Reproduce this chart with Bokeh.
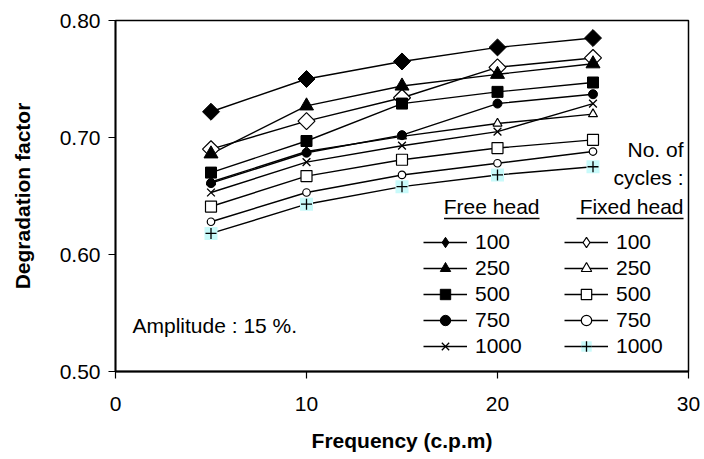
import math
from bokeh.plotting import figure
from bokeh.models import (Range1d, FixedTicker, NumeralTickFormatter, Label,
                          Legend, LegendItem)
from bokeh.embed import file_html
from bokeh.resources import INLINE

# ---- data ----
freq = [5, 10, 15, 20, 25]
cycles = ["100", "250", "500", "750", "1000"]

free_100 = [0.722, 0.750, 0.765, 0.777, 0.785]
free_250 = [0.686, 0.727, 0.744, 0.754, 0.763]
free_500 = [0.670, 0.697, 0.729, 0.739, 0.747]
free_750 = [0.661, 0.687, 0.702, 0.729, 0.737]
free_1000 = [0.653, 0.679, 0.693, 0.705, 0.729]

fixed_100 = [0.690, 0.714, 0.734, 0.760, 0.768]
fixed_250 = [0.662, 0.688, 0.701, 0.712, 0.720]
fixed_500 = [0.641, 0.667, 0.681, 0.691, 0.698]
fixed_750 = [0.628, 0.653, 0.668, 0.678, 0.688]
fixed_1000 = [0.618, 0.643, 0.658, 0.668, 0.675]

x_ticks = [0, 10, 20, 30]
y_ticks = [0.5, 0.6, 0.7, 0.8]

FONT = "Liberation Sans"

p = figure(width=704, height=459, output_backend="svg", toolbar_location=None,
           x_range=Range1d(0, 30), y_range=Range1d(0.5, 0.8),
           min_border_left=115, min_border_right=16, min_border_top=20,
           min_border_bottom=88)
p.xgrid.visible = False
p.ygrid.visible = False
p.outline_line_color = "black"
p.outline_line_width = 1.5
p.background_fill_color = "white"
p.border_fill_color = "white"

for ax in (p.xaxis[0], p.yaxis[0]):
    ax.axis_line_color = "black"
    ax.axis_line_width = 1.8
    ax.major_tick_line_color = "black"
    ax.major_tick_line_width = 1.2
    ax.major_tick_in = 0
    ax.major_tick_out = 7
    ax.minor_tick_line_color = None
    ax.major_label_text_font = FONT
    ax.major_label_text_font_size = "21px"
    ax.major_label_text_color = "black"
    ax.axis_label_text_font = FONT
    ax.axis_label_text_font_size = "21px"
    ax.axis_label_text_font_style = "bold"
    ax.axis_label_text_color = "black"

p.xaxis.ticker = FixedTicker(ticks=x_ticks)
p.yaxis.ticker = FixedTicker(ticks=y_ticks)
p.yaxis.formatter = NumeralTickFormatter(format="0.00")
p.xaxis.major_label_standoff = 18
p.yaxis.major_label_standoff = 8
p.xaxis.axis_label = "Frequency (c.p.m)"
p.yaxis.axis_label = "Degradation factor"
p.xaxis.axis_label_standoff = 15
p.yaxis.axis_label_standoff = 23

# ---- series ----
LW = 1.4
lines = {}
all_series = [("fixed", cycles[i], s) for i, s in enumerate(
    [fixed_100, fixed_250, fixed_500, fixed_750, fixed_1000])] + \
    [("free", cycles[i], s) for i, s in enumerate(
        [free_100, free_250, free_500, free_750, free_1000])]
for kind, c, s in all_series:
    lines[(kind, c)] = p.line(freq, s, line_color="black", line_width=LW)

marks = {}
# fixed head (open) markers
marks[("fixed", "100")] = [p.scatter(freq, fixed_100, marker="square", angle=math.pi / 4,
                                     size=12, fill_color="white", line_color="black", line_width=1.2)]
marks[("fixed", "250")] = [p.scatter(freq, fixed_250, marker="triangle", size=9,
                                     fill_color="white", line_color="black", line_width=1.2)]
marks[("fixed", "500")] = [p.scatter(freq, fixed_500, marker="square", size=11,
                                     fill_color="white", line_color="black", line_width=1.2)]
marks[("fixed", "750")] = [p.scatter(freq, fixed_750, marker="circle", size=7.5,
                                     fill_color="white", line_color="black", line_width=1.2)]
marks[("fixed", "1000")] = [
    p.scatter(freq, fixed_1000, marker="square", size=13, fill_color="#c8fafa", line_color=None),
    p.scatter(freq, fixed_1000, marker="cross", size=11, line_color="black", line_width=1.3)]
# free head (filled) markers
marks[("free", "100")] = [p.scatter(freq, free_100, marker="square", angle=math.pi / 4,
                                    size=12, fill_color="black", line_color="black")]
marks[("free", "250")] = [p.scatter(freq, free_250, marker="triangle", size=14,
                                    fill_color="black", line_color="black")]
marks[("free", "500")] = [p.scatter(freq, free_500, marker="square", size=11,
                                    fill_color="black", line_color="black")]
marks[("free", "750")] = [p.scatter(freq, free_750, marker="circle", size=9,
                                    fill_color="black", line_color="black")]
marks[("free", "1000")] = [p.scatter(freq, free_1000, marker="x", size=11,
                                     line_color="black", line_width=1.3)]

# the legend cannot rotate markers, so the 100-cycle entries use hidden diamond renderers
leg_marks = dict(marks)
leg_marks[("free", "100")] = [p.scatter(freq, free_100, marker="diamond", size=12,
                                        fill_color="black", line_color="black", visible=False)]
leg_marks[("fixed", "100")] = [p.scatter(freq, fixed_100, marker="diamond", size=12,
                                         fill_color="white", line_color="black",
                                         line_width=1.2, visible=False)]

items = []
for kind in ("free", "fixed"):
    for c in cycles:
        items.append(LegendItem(label=c, renderers=[lines[(kind, c)]] + leg_marks[(kind, c)]))

legend = Legend(items=items, orientation="vertical", nrows=5,
                location=(308, 12), glyph_width=44, glyph_height=26,
                label_height=26, label_width=89, spacing=0, padding=0, margin=0,
                label_standoff=8, border_line_color=None, background_fill_alpha=0,
                label_text_font=FONT, label_text_font_size="21px",
                label_text_color="black", click_policy="none")
p.add_layout(legend, "center")

# ---- texts ----
def lab(text, x, y, align="left"):
    p.add_layout(Label(x=x, y=y, text=text, text_align=align, text_baseline="alphabetic",
                       text_font=FONT, text_font_size="21px", text_color="black"))

lab("Amplitude : 15 %.", 0.89, 0.539)
lab("No. of", 29.74, 0.690, align="right")
lab("cycles :", 29.74, 0.6658, align="right")
lab("Free head", 22.2, 0.641, align="right")
lab("Fixed head", 29.74, 0.641, align="right")

ul_x0 = [17.2, 24.14]
ul_x1 = [22.2, 29.74]
p.segment(x0=ul_x0, y0=[0.6308, 0.6308], x1=ul_x1, y1=[0.6308, 0.6308],
          line_color="black", line_width=1.5)

open("out.html", "w").write(file_html(p, INLINE))
